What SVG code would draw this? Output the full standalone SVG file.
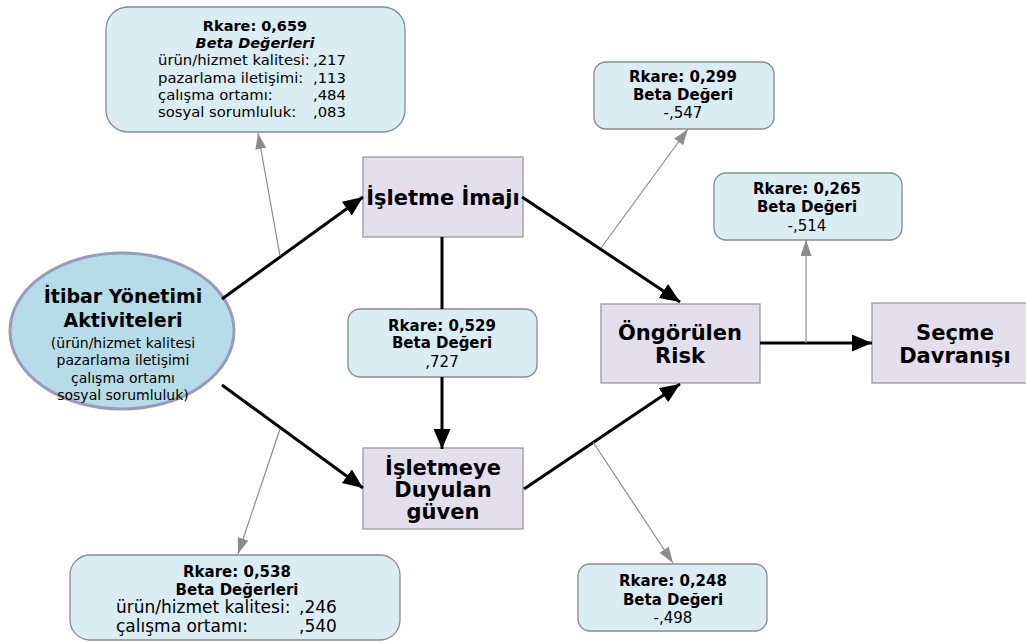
<svg xmlns="http://www.w3.org/2000/svg" width="1026" height="642" viewBox="0 0 1026 642">
<defs>
<style>
.bx{fill:#daedf3;stroke:#8a8a8a;stroke-width:1.3}
.nd{fill:#e4dfec;stroke:#9a9a9a;stroke-width:1.3}
text{font-family:"DejaVu Sans","Verdana",sans-serif;fill:#000}
.b{font-weight:bold;font-size:15px}
.bt{font-weight:bold;font-size:14.5px}
.bi{font-weight:bold;font-style:italic;font-size:14.5px}
.r{font-size:15px}
.rs{font-size:14.8px}
.rl{font-size:17px}
.t{font-weight:bold;font-size:21px}
.c{text-anchor:middle}
.blk{stroke:#000;stroke-width:3;fill:none}
.gry{stroke:#8c8c8c;stroke-width:1.2;fill:none}
</style>
<marker id="ab" markerUnits="userSpaceOnUse" markerWidth="22" markerHeight="18" refX="20" refY="8.5" orient="auto">
<path d="M0,0 L20,8.5 L0,17 z" fill="#000"/>
</marker>
<marker id="ag" markerUnits="userSpaceOnUse" markerWidth="18" markerHeight="12" refX="16" refY="5.5" orient="auto">
<path d="M0,0 L16,5.5 L0,11 z" fill="#8c8c8c"/>
</marker>
</defs>

<g id="itibar">
<ellipse cx="122" cy="331" rx="112" ry="78" fill="#b5dce7" stroke="#9a9ac0" stroke-width="3"/>
<text class="c" x="123" y="303" style="font-weight:bold;font-size:19px">İtibar Yönetimi</text>
<text class="c" x="123" y="327" style="font-weight:bold;font-size:19px">Aktiviteleri</text>
<text class="c" x="123" y="348" style="font-size:14px">(ürün/hizmet kalitesi</text>
<text class="c" x="123" y="365" style="font-size:14px">pazarlama iletişimi</text>
<text class="c" x="123" y="383" style="font-size:14px">çalışma ortamı</text>
<text class="c" x="123" y="400" style="font-size:14px">sosyal sorumluluk)</text>
</g>

<g id="imaj">
<rect class="nd" x="363" y="157" width="160" height="80"/>
<text class="c t" x="443" y="205">İşletme İmajı</text>
</g>

<g id="guven">
<rect class="nd" x="363" y="448" width="160" height="81"/>
<text class="c t" x="443" y="475">İşletmeye</text>
<text class="c t" x="443" y="497">Duyulan</text>
<text class="c t" x="443" y="519">güven</text>
</g>

<g id="risk">
<rect class="nd" x="601" y="304" width="159" height="79"/>
<text class="c t" x="680" y="340">Öngörülen</text>
<text class="c t" x="680" y="363">Risk</text>
</g>

<g id="secme">
<rect class="nd" x="872" y="303" width="160" height="80"/>
<text class="c t" x="955" y="340">Seçme</text>
<text class="c t" x="955" y="363">Davranışı</text>
</g>

<g id="box-imaj-r2">
<rect class="bx" x="106" y="7" width="299" height="125" rx="22"/>
<text class="c bt" x="255" y="31">Rkare: 0,659</text>
<text class="c bi" x="255" y="48">Beta Değerleri</text>
<text class="rs" x="158" y="65">ürün/hizmet kalitesi:</text><text class="rs" x="313" y="65">,217</text>
<text class="rs" x="158" y="83">pazarlama iletişimi:</text><text class="rs" x="313" y="83">,113</text>
<text class="rs" x="158" y="100">çalışma ortamı:</text><text class="rs" x="313" y="100">,484</text>
<text class="rs" x="158" y="117">sosyal sorumluluk:</text><text class="rs" x="313" y="117">,083</text>
</g>

<g id="box-guven-r2">
<rect class="bx" x="70" y="555" width="330" height="85" rx="20"/>
<text class="c b" x="237" y="577">Rkare: 0,538</text>
<text class="c b" x="237" y="595">Beta Değerleri</text>
<text class="rl" x="116" y="613">ürün/hizmet kalitesi:</text><text class="rl" x="299" y="613">,246</text>
<text class="rl" x="116" y="632">çalışma ortamı:</text><text class="rl" x="299" y="632">,540</text>
</g>

<g id="box-mid">
<rect class="bx" x="348" y="309" width="189" height="68" rx="12"/>
<text class="c b" x="442" y="331">Rkare: 0,529</text>
<text class="c b" x="442" y="348">Beta Değeri</text>
<text class="c r" x="442" y="367">,727</text>
</g>

<g id="box-risk1">
<rect class="bx" x="594" y="62" width="180" height="67" rx="12"/>
<text class="c b" x="683" y="82">Rkare: 0,299</text>
<text class="c b" x="683" y="100">Beta Değeri</text>
<text class="c r" x="683" y="118">-,547</text>
</g>

<g id="box-secme">
<rect class="bx" x="714" y="173" width="188" height="67" rx="12"/>
<text class="c b" x="807" y="194">Rkare: 0,265</text>
<text class="c b" x="807" y="212">Beta Değeri</text>
<text class="c r" x="807" y="231">-,514</text>
</g>

<g id="box-risk2">
<rect class="bx" x="578" y="564" width="189" height="67" rx="12"/>
<text class="c b" x="673" y="586">Rkare: 0,248</text>
<text class="c b" x="673" y="605">Beta Değeri</text>
<text class="c r" x="673" y="623">-,498</text>
</g>

<g id="connectors">
<line class="blk" x1="222" y1="299" x2="363" y2="197" marker-end="url(#ab)"/>
<line class="blk" x1="222" y1="385" x2="363" y2="488" marker-end="url(#ab)"/>
<line class="blk" x1="522" y1="197" x2="680" y2="302" marker-end="url(#ab)"/>
<line class="blk" x1="524" y1="489" x2="680" y2="384" marker-end="url(#ab)"/>
<line class="blk" x1="442" y1="237" x2="442" y2="309"/>
<line class="blk" x1="442" y1="377" x2="442" y2="449" marker-end="url(#ab)"/>
<line class="blk" x1="760" y1="343" x2="872" y2="343" marker-end="url(#ab)"/>
<line class="gry" x1="280" y1="256" x2="258" y2="133" marker-end="url(#ag)"/>
<line class="gry" x1="280" y1="429" x2="238" y2="554" marker-end="url(#ag)"/>
<line class="gry" x1="601" y1="248" x2="688" y2="129" marker-end="url(#ag)"/>
<line class="gry" x1="593" y1="442" x2="673" y2="563" marker-end="url(#ag)"/>
<line class="gry" x1="806" y1="343" x2="806" y2="240" marker-end="url(#ag)"/>
</g>
</svg>
